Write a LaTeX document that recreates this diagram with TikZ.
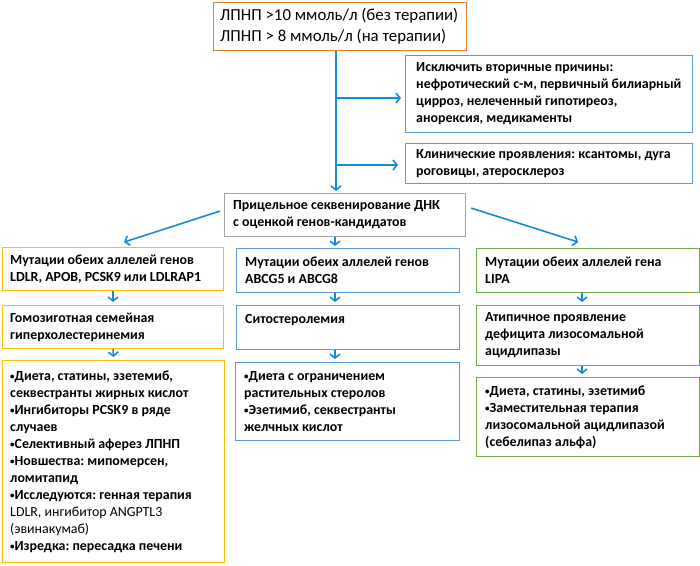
\documentclass[tikz,border=0pt]{standalone}
\usepackage{fontspec}
\setmainfont{Carlito}
\frenchspacing
\usetikzlibrary{arrows.meta}
\definecolor{orC}{RGB}{237,125,49}
\definecolor{blC}{RGB}{91,155,213}
\definecolor{arC}{RGB}{20,140,215}
\definecolor{yeC}{RGB}{255,192,0}
\definecolor{grC}{RGB}{112,173,71}
\definecolor{gyC}{RGB}{165,165,165}
\newcommand{\bul}{\raisebox{1.2pt}{\fontsize{9}{9}\selectfont •}}
\begin{document}
\begin{tikzpicture}[x=1pt,y=-1pt,
  bx/.style={draw, line width=1.2pt, anchor=north west, inner sep=0pt},
  txt/.style={anchor=west, align=left, inner sep=0pt, font=\bfseries\fontsize{13.9}{17}\selectfont},
  arr/.style={draw=arC, line width=1.6pt, -{Straight Barb[length=4pt,width=10pt]}}]
\useasboundingbox (0,0) rectangle (700,565);
% boxes
\node[bx, draw=orC, minimum width=253pt, minimum height=48pt] (t) at (213,2) {};
\node[bx, draw=blC, minimum width=287pt, minimum height=77pt] (b2) at (405,55) {};
\node[bx, draw=blC, minimum width=287pt, minimum height=40pt] (b3) at (405,143) {};
\node[bx, draw=gyC, minimum width=241pt, minimum height=43pt] (dna) at (224,193) {};
\node[bx, draw=yeC, minimum width=221pt, minimum height=43pt] (L1) at (2,247) {};
\node[bx, draw=yeC, minimum width=221pt, minimum height=43pt] (L2) at (2,305) {};
\node[bx, draw=yeC, minimum width=222pt, minimum height=202pt] (L3) at (2,360) {};
\node[bx, draw=blC, minimum width=223pt, minimum height=44pt] (M1) at (236,248) {};
\node[bx, draw=blC, minimum width=223pt, minimum height=44pt] (M2) at (236,305) {};
\node[bx, draw=blC, minimum width=224pt, minimum height=78pt] (M3) at (235,362) {};
\node[bx, draw=grC, minimum width=223pt, minimum height=44pt] (R1) at (476,248) {};
\node[bx, draw=grC, minimum width=223pt, minimum height=60pt] (R2) at (476,305) {};
\node[bx, draw=grC, minimum width=223pt, minimum height=79pt] (R3) at (476,377) {};
% texts
\node[txt, font=\fontsize{16.8}{21}\selectfont] (tT) at ([xshift=7pt]t.west)
  {ЛПНП >10 ммоль/л (без терапии)\\ЛПНП > 8 ммоль/л (на терапии)};
\node[txt] (b2T) at ([xshift=11pt]b2.west)
  {Исключить вторичные причины:\\нефротический с-м, первичный билиарный\\цирроз, нелеченный гипотиреоз,\\анорексия, медикаменты};
\node[txt] (b3T) at ([xshift=11pt]b3.west)
  {Клинические проявления: ксантомы, дуга\\роговицы, атеросклероз};
\node[txt] (dnaT) at ([xshift=9pt]dna.west)
  {Прицельное секвенирование ДНК\\с оценкой генов-кандидатов};
\node[txt] (L1T) at ([xshift=8pt]L1.west)
  {Мутации обеих аллелей генов\\LDLR, APOB, PCSK9 или LDLRAP1};
\node[txt] (L2T) at ([xshift=8pt]L2.west)
  {Гомозиготная семейная\\гиперхолестеринемия};
\node[txt] (L3T) at ([xshift=8pt]L3.west)
  {\bul Диета, статины, эзетемиб,\\секвестранты жирных кислот\\\bul Ингибиторы PCSK9 в ряде\\случаев\\\bul Селективный аферез ЛПНП\\\bul Новшества: мипомерсен,\\ломитапид\\\bul Исследуются: генная терапия\\{\mdseries LDLR, ингибитор ANGPTL3}\\{\mdseries (эвинакумаб)}\\\bul Изредка: пересадка печени};
\node[txt] (M1T) at ([xshift=9pt]M1.west)
  {Мутации обеих аллелей генов\\ABCG5 и ABCG8};
\node[txt] (M2T) at ([xshift=9pt]M2.west)
  {Ситостеролемия\\\mbox{}};
\node[txt] (M3T) at ([xshift=9pt]M3.west)
  {\bul Диета с ограничением\\растительных стеролов\\\bul Эзетимиб, секвестранты\\желчных кислот};
\node[txt] (R1T) at ([xshift=9pt]R1.west)
  {Мутации обеих аллелей гена\\LIPA};
\node[txt] (R2T) at ([xshift=9pt]R2.west)
  {Атипичное проявление\\дефицита лизосомальной\\ацидлипазы};
\node[txt] (R3T) at ([xshift=9pt]R3.west)
  {\bul Диета, статины, эзетимиб\\\bul Заместительная терапия\\лизосомальной ацидлипазой\\(себелипаз альфа)};
% connectors
\coordinate (v) at (336,50);
\coordinate (h1) at (336,98);
\coordinate (h2) at (336,165);
\coordinate (vr) at (582,292);
\coordinate (vm) at (335,292);
\draw[arr, shorten >=2pt] (t.south -| v) -- (dna.north -| v);
\draw[arr, shorten >=4pt] (h1) -- (b2.west |- h1);
\draw[arr, shorten >=7pt] (h2) -- (b3.west |- h2);
\draw[arr, shorten >=3pt] ([shift={(-4,-4)}]dna.west) -- ([shift={(8,-4)}]L1.north);
\draw[arr, shorten >=3pt] ([shift={(5,-7)}]dna.east) -- ([shift={(-7,-5)}]R1.north);
\draw[arr, shorten >=2pt] (dna.south -| vm) -- (M1.north -| vm);
\draw[arr, shorten >=3pt] (L1.south) -- (L2.north);
\draw[arr, shorten >=3pt] (L2.south) -- (L3.north);
\draw[arr, shorten >=3pt] (M1.south -| vm) -- (M2.north -| vm);
\draw[arr, shorten >=3pt] (M2.south -| vm) -- (M3.north -| vm);
\draw[arr, shorten >=3pt] (R1.south -| vr) -- (R2.north -| vr);
\draw[arr, shorten >=3pt] (R2.south -| vr) -- (R3.north -| vr);
\end{tikzpicture}
\end{document}
